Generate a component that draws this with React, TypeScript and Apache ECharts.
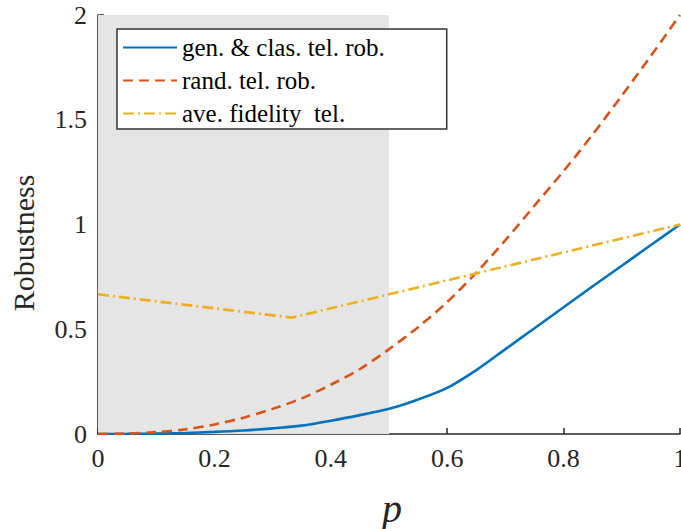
import React, { useEffect, useRef } from "react";
import * as echarts from "echarts";

// Probability grid shared by the two robustness curves
const pGrid = [
  0, 0.05, 0.1, 0.15, 0.2, 0.25, 0.3, 0.35, 0.4, 0.45, 0.5,
  0.55, 0.6, 0.65, 0.7, 0.75, 0.8, 0.85, 0.9, 0.95, 1,
];

// gen. & clas. tel. rob.
const genClasRob = [
  0, 0.0005, 0.002, 0.005, 0.01, 0.017, 0.027, 0.04, 0.063, 0.09, 0.12,
  0.165, 0.22, 0.305, 0.405, 0.505, 0.605, 0.705, 0.803, 0.902, 1,
];

// rand. tel. rob.
const randRob = [
  0, 0.002, 0.009, 0.022, 0.045, 0.078, 0.12, 0.17, 0.235, 0.31, 0.405,
  0.51, 0.63, 0.77, 0.925, 1.09, 1.255, 1.43, 1.615, 1.805, 2,
];

// ave. fidelity tel. (piecewise linear)
const fidelityP = [0, 1 / 3, 1];
const fidelityVals = [2 / 3, 5 / 9, 1];

const seriesNames = [
  "gen. & clas. tel. rob.",
  "rand. tel. rob.",
  "ave. fidelity  tel.",
];

// Shaded interval of p
const shadedRange = [0, 0.5];

const xTicks = { min: 0, max: 1, interval: 0.2 };
const yTicks = { min: 0, max: 2, interval: 0.5 };

const zip = (xs: number[], ys: number[]) => xs.map((x, i) => [x, ys[i]]);

const SERIF = "Liberation Serif";
const AXIS_COLOR = "#262626";

export default function App() {
  const ref = useRef<HTMLDivElement>(null);

  useEffect(() => {
    if (!ref.current) return;
    const chart = echarts.init(ref.current, undefined, { renderer: "svg" });

    const axisCommon = {
      axisLine: { show: true, lineStyle: { color: AXIS_COLOR, width: 1.5 } },
      axisTick: { show: true, inside: true, length: 6, lineStyle: { color: AXIS_COLOR, width: 1.5 } },
      splitLine: { show: false },
      axisLabel: {
        color: AXIS_COLOR,
        fontFamily: SERIF,
        fontSize: 26,
        formatter: (v: number) => String(+v.toFixed(2)),
      },
    };

    chart.setOption({
      animation: false,
      backgroundColor: "#ffffff",
      grid: { left: 98, right: 1, top: 15, bottom: 95, outerBoundsMode: "none", containLabel: false },
      xAxis: {
        type: "value",
        ...xTicks,
        ...axisCommon,
        axisLabel: { ...axisCommon.axisLabel, margin: 11 },
      },
      yAxis: {
        type: "value",
        ...yTicks,
        ...axisCommon,
        axisLabel: { ...axisCommon.axisLabel, margin: 11 },
      },
      legend: {
        orient: "vertical",
        left: 117,
        top: 29,
        itemWidth: 54,
        itemHeight: 24,
        itemGap: 8,
        padding: [6, 62, 3, 5],
        backgroundColor: "#ffffff",
        borderColor: "#333333",
        borderWidth: 1.5,
        borderRadius: 0,
        z: 20,
        itemStyle: { opacity: 0 },
        textStyle: { fontFamily: SERIF, fontSize: 25, color: "#000000" },
        data: seriesNames,
      },
      graphic: [
        {
          type: "text",
          x: 23,
          y: 243,
          rotation: Math.PI / 2,
          style: {
            text: "Robustness",
            fontFamily: SERIF,
            fontSize: 30,
            fill: AXIS_COLOR,
            align: "center",
            verticalAlign: "middle",
          },
        },
        {
          type: "text",
          x: 392,
          y: 508,
          style: {
            text: "p",
            fontFamily: SERIF,
            fontStyle: "italic",
            fontSize: 40,
            fill: AXIS_COLOR,
            align: "center",
            verticalAlign: "middle",
          },
        },
      ],
      series: [
        {
          name: seriesNames[0],
          type: "line",
          data: zip(pGrid, genClasRob),
          symbol: "none",
          smooth: 0.3,
          lineStyle: { color: "#0072BD", width: 2.6, type: "solid" },
          itemStyle: { color: "#0072BD" },
          z: 3,
          markArea: {
            silent: true,
            itemStyle: { color: "#e5e5e5" },
            data: [[{ xAxis: shadedRange[0] }, { xAxis: shadedRange[1] }]],
          },
        },
        {
          name: seriesNames[1],
          type: "line",
          data: zip(pGrid, randRob),
          symbol: "none",
          smooth: 0.3,
          lineStyle: { color: "#D95319", width: 2.6, type: [10, 6] },
          itemStyle: { color: "#D95319" },
          z: 3,
        },
        {
          name: seriesNames[2],
          type: "line",
          data: zip(fidelityP, fidelityVals),
          symbol: "none",
          lineStyle: { color: "#EDB120", width: 2.6, type: [11, 4, 2, 4] },
          itemStyle: { color: "#EDB120" },
          z: 3,
        },
      ],
    });

    return () => chart.dispose();
  }, []);

  return (
    <div
      ref={ref}
      style={{ position: "fixed", left: 0, top: 0, width: 681, height: 529 }}
    />
  );
}
